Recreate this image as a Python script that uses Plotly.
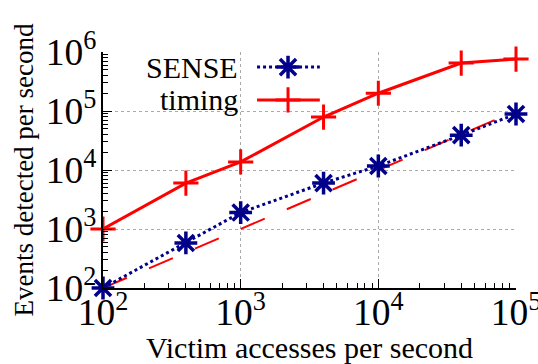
import plotly.graph_objects as go

# Data
victim_rate = [100, 400, 1000, 4000, 10000, 40000, 100000]
sense_detected = [100, 580, 1900, 6000, 11700, 39000, 89000]
timing_detected = [1000, 6000, 13700, 79000, 200000, 650000, 760000]
ideal_x = [100, 100000]
ideal_y = [100, 100000]
x_decades = [100, 1000, 10000]
y_decades = [100, 1000, 10000, 100000]
minor_mult = [2, 3, 4, 5, 6, 7, 8, 9]

FONT = "Liberation Serif"
NAVY = "#00008b"
RED = "#ff0000"

fig = go.Figure()

# invisible trace so the minor-tick overlay subplot is drawn (drawn first, below)
x_minor = [d * m for d in x_decades for m in minor_mult]
y_minor = [d * m for d in y_decades for m in minor_mult]
fig.add_trace(go.Scatter(x=[x_minor[0]], y=[y_minor[0]], xaxis="x3", yaxis="y3",
                         mode="markers", marker=dict(opacity=0),
                         showlegend=False, hoverinfo="skip"))

fig.add_trace(go.Scatter(
    x=ideal_x, y=ideal_y, mode="lines",
    line=dict(color=RED, width=2, dash="26px,24px"),
    showlegend=False, cliponaxis=False))

fig.add_trace(go.Scatter(
    x=victim_rate, y=timing_detected, mode="lines+markers",
    line=dict(color=RED, width=3),
    marker=dict(symbol="cross-thin-open", size=18, color=RED, line=dict(color=RED, width=3)),
    showlegend=False, cliponaxis=False))

fig.add_trace(go.Scatter(
    x=victim_rate, y=sense_detected, mode="lines+markers",
    line=dict(color=NAVY, width=3, dash="dot"),
    marker=dict(symbol="asterisk-open", size=19, color=NAVY, line=dict(color=NAVY, width=3.5)),
    showlegend=False, cliponaxis=False))

# Custom legend (text on the left of the sample, as in the reference)
leg_x = [0.373, 0.525]
leg_mid = [0.448]
fig.add_trace(go.Scatter(
    x=leg_x, y=[0.936] * 2, xaxis="x2", yaxis="y2", mode="lines",
    line=dict(color=NAVY, width=3, dash="dot"), showlegend=False, hoverinfo="skip"))
fig.add_trace(go.Scatter(
    x=leg_mid, y=[0.936], xaxis="x2", yaxis="y2", mode="markers",
    marker=dict(symbol="asterisk-open", size=19, color=NAVY, line=dict(color=NAVY, width=3.5)),
    showlegend=False, hoverinfo="skip", cliponaxis=False))
fig.add_trace(go.Scatter(
    x=leg_x, y=[0.797] * 2, xaxis="x2", yaxis="y2", mode="lines",
    line=dict(color=RED, width=3), showlegend=False, hoverinfo="skip"))
fig.add_trace(go.Scatter(
    x=leg_mid, y=[0.797], xaxis="x2", yaxis="y2", mode="markers",
    marker=dict(symbol="cross-thin-open", size=18, color=RED, line=dict(color=RED, width=3)),
    showlegend=False, hoverinfo="skip", cliponaxis=False))

fig.add_annotation(x=0.332, y=0.936, xref="paper", yref="paper", text="SENSE",
                   showarrow=False, xanchor="right", yanchor="middle",
                   font=dict(family=FONT, size=30, color="black"))
fig.add_annotation(x=0.332, y=0.797, xref="paper", yref="paper", text="timing",
                   showarrow=False, xanchor="right", yanchor="middle",
                   font=dict(family=FONT, size=30, color="black"))

axis_common = dict(
    type="log", showline=True, linecolor="black", linewidth=1.5,
    ticks="inside", ticklen=9, tickwidth=1, tickcolor="black",
    showgrid=True, gridcolor="#aaaaaa", gridwidth=1, griddash="dot",
    exponentformat="power", dtick=1, zeroline=False, automargin=False,
    ticklabeloverflow="allow",
    tickfont=dict(family=FONT, size=30, color="black"),
)

minor_common = dict(
    type="log", showline=False, showgrid=False, zeroline=False,
    showticklabels=False, ticks="inside", ticklen=5, tickwidth=1,
    tickcolor="black", automargin=False, fixedrange=True, tickmode="array",
)

fig.update_layout(
    width=538, height=364,
    margin=dict(l=103, r=22, t=52, b=76),
    paper_bgcolor="white", plot_bgcolor="white",
    font=dict(family=FONT, color="black"),
    xaxis=dict(range=[2, 5], ticklabelstandoff=-8,
               title=dict(text="Victim accesses per second",
                          font=dict(family=FONT, size=30), standoff=0), **axis_common),
    yaxis=dict(range=[2, 6], ticklabelstandoff=-1,
               title=dict(text="Events detected per second",
                          font=dict(family=FONT, size=27), standoff=4), **axis_common),
    xaxis2=dict(overlaying="x", range=[0, 1], visible=False, fixedrange=True),
    yaxis2=dict(overlaying="y", range=[0, 1], visible=False, fixedrange=True),
    xaxis3=dict(overlaying="x", anchor="y3", side="bottom", range=[2, 5],
                tickvals=x_minor, **minor_common),
    yaxis3=dict(overlaying="y", anchor="x3", side="left", range=[2, 6],
                tickvals=y_minor, **minor_common),
    showlegend=False,
)

fig.write_html("out.html", config={"displayModeBar": False},
               post_script="document.body.style.margin='0px';document.body.style.overflow='hidden';")
